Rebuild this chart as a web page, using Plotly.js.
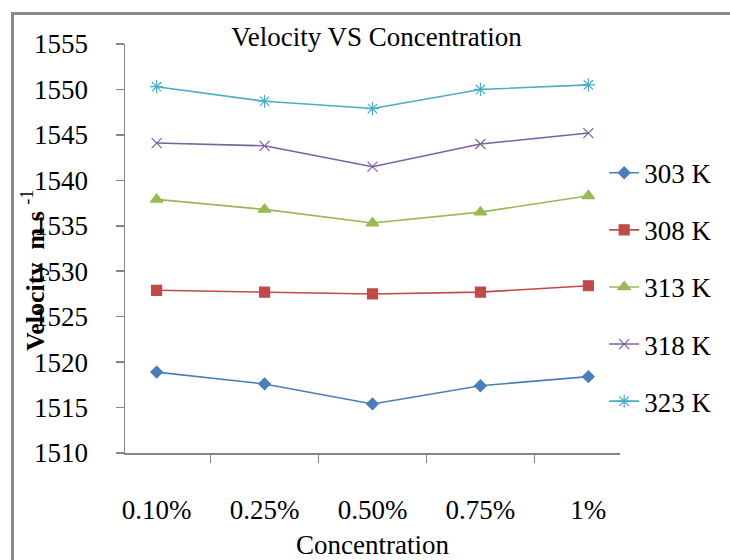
<!DOCTYPE html>
<html>
<head>
<meta charset="utf-8">
<script src="https://cdn.plot.ly/plotly-3.0.1.min.js"></script>
<style>
  html, body { margin: 0; padding: 0; background: #fff; }
  #wrap { position: relative; width: 730px; height: 560px; }
  #chart { width: 730px; height: 560px; }
  #frame { position: absolute; left: 11px; top: 12px; width: 719px; height: 548px;
           border-left: 3px solid #898989; border-top: 3px solid #898989; pointer-events: none; box-sizing: border-box; }
</style>
</head>
<body>
<div id="wrap">
  <div id="chart"></div>
  <div id="frame"></div>
</div>
<script>
const categories = ["0.10%", "0.25%", "0.50%", "0.75%", "1%"];
const seriesNames = ["303 K", "308 K", "313 K", "318 K", "323 K"];
const v303 = [1518.9, 1517.6, 1515.4, 1517.4, 1518.4];
const v308 = [1527.9, 1527.7, 1527.5, 1527.7, 1528.4];
const v313 = [1537.9, 1536.8, 1535.3, 1536.5, 1538.3];
const v318 = [1544.1, 1543.8, 1541.5, 1544.0, 1545.2];
const v323 = [1550.3, 1548.7, 1547.9, 1550.0, 1550.5];
const yTitle = "<b>Velocity  m s</b> <sup>-1</sup>";

const seriesValues = [v303, v308, v313, v318, v323];
const colors = ["#4a7ebb", "#be4b48", "#98b954", "#7d60a0", "#4bacc6"];
const symbols = ["diamond", "square", "triangle-up", "x-thin-open", "asterisk-open"];
const sizes = [9, 10, 11, 10, 11];

const serif = "Liberation Serif";

const traces = seriesNames.map((name, i) => ({
  type: "scatter",
  mode: "lines+markers",
  name: name,
  legendgroup: "g" + i,
  x: categories,
  y: seriesValues[i],
  line: { color: colors[i], width: 1.6 },
  marker: { symbol: symbols[i], size: sizes[i], color: colors[i],
            line: { color: colors[i], width: 1.2 } }
}));

const layout = {
  width: 730, height: 560,
  margin: { l: 125, r: 110, t: 44, b: 107, pad: 0 },
  paper_bgcolor: "#fff", plot_bgcolor: "#fff",
  font: { family: serif, color: "#000", size: 26 },
  title: { text: "Velocity VS Concentration", font: { family: serif, size: 27, color: "#000" },
           x: 0.508, xanchor: "center", xref: "paper", y: 0.934, yanchor: "middle", yref: "container" },
  showlegend: true,
  legend: { x: 0.968, xanchor: "left", y: 0.744, yanchor: "top", traceorder: "grouped",
            tracegroupgap: 19, font: { family: serif, size: 27, color: "#000" },
            bgcolor: "rgba(0,0,0,0)", itemwidth: 30 },
  annotations: [{
    text: yTitle, xref: "paper", yref: "paper", x: -0.186, y: 0.447,
    xanchor: "center", yanchor: "middle", textangle: -90, showarrow: false,
    font: { family: serif, size: 26, color: "#000" }
  }],
  xaxis: {
    type: "category",
    showgrid: false, zeroline: false,
    showline: true, linecolor: "#868686", linewidth: 1.5,
    ticks: "outside", ticklen: 8, tickcolor: "#868686", tickwidth: 1.5,
    tickson: "boundaries",
    tickfont: { family: serif, size: 27, color: "#000" },
    ticklabelstandoff: 32,
    title: { text: "Concentration", font: { family: serif, size: 27, color: "#000" }, standoff: 11 },
    automargin: false
  },
  yaxis: {
    range: [1510, 1555],
    dtick: 5, tick0: 1510,
    showgrid: false, zeroline: false,
    showline: true, linecolor: "#868686", linewidth: 1.5,
    ticks: "outside", ticklen: 8, tickcolor: "#868686", tickwidth: 1.5,
    tickfont: { family: serif, size: 27, color: "#000" },
    ticklabelstandoff: 22,
    automargin: false
  }
};

Plotly.newPlot("chart", traces, layout, { displayModeBar: false, staticPlot: true });
</script>
</body>
</html>
